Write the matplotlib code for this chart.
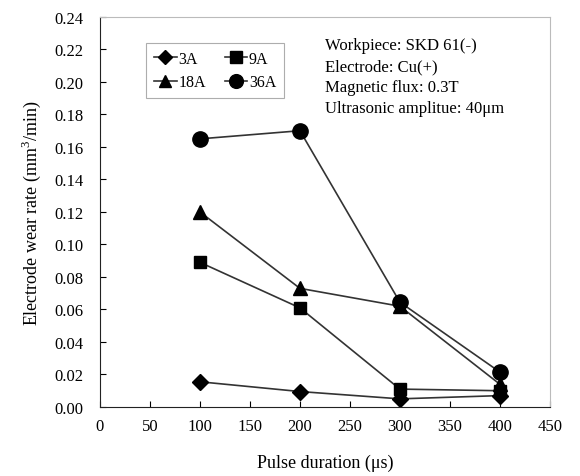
import matplotlib
matplotlib.use("Agg")
import matplotlib.pyplot as plt

plt.rcParams['font.family'] = ['Liberation Serif', 'DejaVu Serif']
plt.rcParams['mathtext.fontset'] = 'custom'
plt.rcParams['mathtext.rm'] = 'Liberation Serif'

x = [100, 200, 300, 400]
s3 = [0.0155, 0.0095, 0.005, 0.007]
s9 = [0.089, 0.061, 0.011, 0.010]
s18 = [0.120, 0.073, 0.062, 0.014]
s36 = [0.165, 0.170, 0.0645, 0.0215]
labels = ['3A', '9A', '18A', '36A']
markers = ['D', 's', '^', 'o']
msizes = [8, 9, 10, 11]

fig = plt.figure(figsize=(5.8, 4.77), dpi=100)
ax = fig.add_axes([0.1724, 0.1447, 0.7756, 0.8176])

lines = {}
for ys, lab, m, ms in zip([s3, s9, s18, s36], labels, markers, msizes):
    ln, = ax.plot(x, ys, color='#333333', lw=1.2, marker=m, ms=ms,
                  mfc='black', mec='black', label=lab)
    lines[lab] = ln

ax.set_xlim(0, 450)
ax.set_ylim(0, 0.24)
ax.set_xticks(range(0, 451, 50))
ax.set_yticks([i * 0.02 for i in range(13)])
ax.set_yticklabels([f"{i*0.02:.2f}" for i in range(13)])
ax.tick_params(direction='in', labelsize=12, length=4, width=0.8)
ax.tick_params(axis='y', pad=12)
ax.tick_params(axis='x', pad=8)
for s in ['top', 'right']:
    ax.spines[s].set_color('#bbbbbb')
for s in ['left', 'bottom']:
    ax.spines[s].set_color('#222222')

ax.set_xlabel('Pulse duration (\u03bcs)', fontsize=13, labelpad=14)
ax.set_ylabel('Electrode wear rate (mm$^3$/min)', fontsize=13, labelpad=8)

order = ['3A', '18A', '9A', '36A']
leg = ax.legend([lines[k] for k in order], order, ncol=2, loc='upper left',
                bbox_to_anchor=(0.085, 0.955),
                fontsize=11.5, frameon=True, fancybox=False, edgecolor='#999999',
                handlelength=1.4, handletextpad=0.1, columnspacing=1.2,
                borderpad=0.5, labelspacing=0.5, markerscale=0.9)
leg.get_frame().set_linewidth(0.8)

ax.text(0.5, 0.948, 'Workpiece: SKD 61(-)\nElectrode: Cu(+)\nMagnetic flux: 0.3T\nUltrasonic amplitue: 40\u03bcm',
        transform=ax.transAxes, fontsize=12, va='top', ha='left', linespacing=1.4)

fig.savefig('out.png', dpi=100)
